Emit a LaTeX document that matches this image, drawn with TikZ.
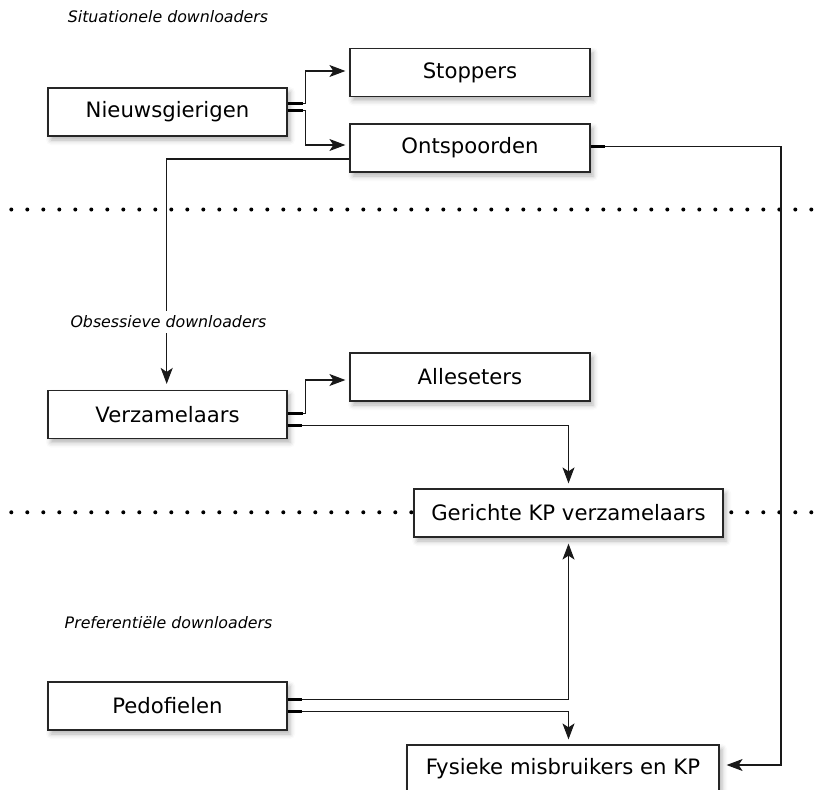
\documentclass[tikz,border=0pt]{standalone}
\usepackage{fontspec}
\setmainfont{DejaVu Sans}
\usetikzlibrary{arrows.meta,shadows.blur,calc}
\tikzset{
  box/.style={draw=black!85, line width=1.2pt, fill=white, minimum width=239pt,
    minimum height=48pt, inner sep=0pt, font=\fontsize{21.2}{25}\selectfont,
    blur shadow={shadow xshift=3pt, shadow yshift=-4pt, shadow blur radius=5pt, shadow opacity=30}},
  conn/.style={draw=black!90, line width=1.1pt, -{Stealth[length=16pt,width=12pt,inset=4pt]}},
  stub/.style={draw=black, line width=2.7pt},
  lab/.style={font=\fontsize{15.8}{18}\selectfont\itshape, inner sep=5pt},
  dot/.style={fill=black}
}
\begin{document}
\begin{tikzpicture}[x=1pt,y=-1pt]
\useasboundingbox (0,0) rectangle (821,789);
% dotted separators
\foreach \k in {0,...,50} {
  \fill[dot] (11.3+16*\k,209.5) circle (2pt);
  \fill[dot] (11.3+16*\k,512.3) circle (2pt);
}
% boxes
\node[box] (nieuw) at (167.5,112) {Nieuwsgierigen};
\node[box, minimum width=240pt] (stop) at (470,72.5) {Stoppers};
\node[box, minimum width=240pt] (onts) at (470,148) {Ontspoorden};
\node[box] (verz) at (167.5,414.5) {Verzamelaars};
\node[box, minimum width=240pt] (alle) at (470,377) {Alleseters};
\node[box, minimum width=309pt] (ger) at (568.5,513) {Gerichte KP verzamelaars};
\node[box] (pedo) at (167.5,706) {Pedofielen};
\node[box, minimum width=312pt] (fys) at (563,769) {Fysieke misbruikers en KP};
% connectors
\draw[conn, shorten >=4pt] (nieuw.east |- 0,103.3) -- (305.5,103.3) |- ([yshift=1.5pt]stop.west);
\draw[conn, shorten >=4pt] (nieuw.east |- 0,110.7) -- (305.5,110.7) |- ([yshift=3pt]onts.west);
\draw[conn, shorten >=6pt] (onts.west |- 0,159) -| ([xshift=-0.8pt]verz.north);
\draw[conn, shorten >=7pt] (onts.east |- 0,146.7) -- (781,146.7) |- ([yshift=4pt]fys.east);
\draw[conn, shorten >=4pt] (verz.east |- 0,413.7) -- (305.5,413.7) |- ([yshift=-3pt]alle.west);
\draw[conn, shorten >=5pt] (verz.east |- 0,425.3) -| (ger.north);
\draw[conn, shorten >=6pt] (pedo.east |- 0,699.3) -| (ger.south);
\draw[conn, shorten >=5pt] (pedo.east |- 0,711.7) -| (fys.north -| ger.south);
% connection stubs
\draw[stub] (nieuw.east |- 0,103.3) -- ++(15,0);
\draw[stub] (nieuw.east |- 0,110.7) -- ++(15,0);
\draw[stub] (onts.east |- 0,146.7) -- ++(14,0);
\draw[stub] (verz.east |- 0,413.7) -- ++(15,0);
\draw[stub] (verz.east |- 0,425.3) -- ++(14,0);
\draw[stub] (pedo.east |- 0,699.3) -- ++(14,0);
\draw[stub] (pedo.east |- 0,711.7) -- ++(14,0);
% group labels
\node[lab] (l1) at (168,17) {Situationele downloaders};
\node[lab, fill=white] (l2) at (168.5,322) {Obsessieve downloaders};
\node[lab] (l3) at (168.5,623) {Preferentiële downloaders};
\end{tikzpicture}
\end{document}
